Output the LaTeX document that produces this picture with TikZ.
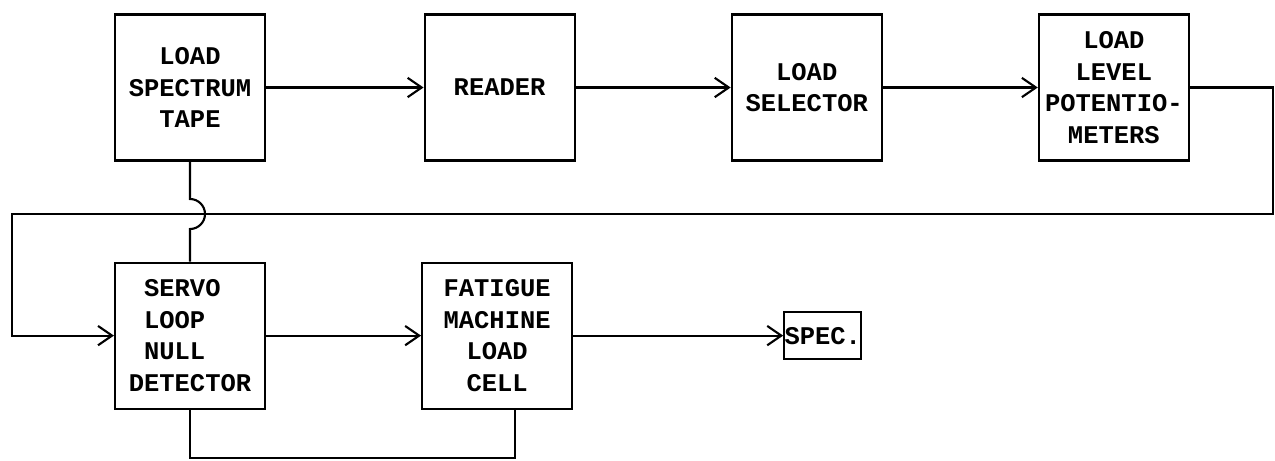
\documentclass[tikz,border=0pt]{standalone}
\usepackage{fontspec}
\setmonofont{Liberation Mono}
\usepackage{tikz}
\usetikzlibrary{arrows.meta, positioning}

\begin{document}
\begin{tikzpicture}[
    node distance=3.1cm,
    >={Straight Barb[length=8pt,width=11pt]},
    every node/.style={font=\fontsize{14.5}{18}\selectfont\ttfamily\bfseries},
    block/.style={rectangle, minimum width=3cm, minimum height=2.92cm, text centered, align=center, draw=black, line width=1.2pt, inner sep=2pt},
    smallblock/.style={rectangle, minimum width=1.54cm, minimum height=0.94cm, inner sep=0pt, draw=black, line width=1.2pt}
]
\useasboundingbox (0,0) rectangle (25.5,-9.2);

\node[block] (tape) at (3.8,-1.75) {LOAD\\SPECTRUM\\TAPE};
\node[block, right=3.15cm of tape] (reader) {READER};
\node[block, right=of reader] (selector) {LOAD\\SELECTOR};
\node[block, right=of selector] (pots) {LOAD\\LEVEL\\POTENTIO-\\METERS};

\node[block, align=left, below=2cm of tape] (servo) {\ SERVO\\\ LOOP\\\ NULL\\DETECTOR};
\node[block, right=of servo] (fatigue) {FATIGUE\\MACHINE\\LOAD\\CELL};
\node[smallblock, right=4.2cm of fatigue] (spec) {SPEC.};

\coordinate (busright) at (25.46,-4.28);
\coordinate (busleft) at (0.24,-4.28);
\coordinate (hop) at (tape.south |- busleft);

\draw[->, line width=1.2pt] (tape) -- (reader);
\draw[->, line width=1.2pt] (reader) -- (selector);
\draw[->, line width=1.2pt] (selector) -- (pots);
\draw[->, line width=1.2pt] (pots.east) -| (busright) -- (busleft) |- (servo.west);
\draw[line width=1.2pt] (tape.south) -- ([yshift=0.3cm]hop) arc[start angle=90, end angle=-90, radius=0.3cm] -- (servo.north);
\draw[->, line width=1.2pt] (servo) -- (fatigue);
\draw[->, line width=1.2pt] (fatigue) -- (spec);
\draw[line width=1.2pt] (servo.south) -- ++(0,-0.97) -| ([xshift=0.35cm]fatigue.south);

\end{tikzpicture}
\end{document}
